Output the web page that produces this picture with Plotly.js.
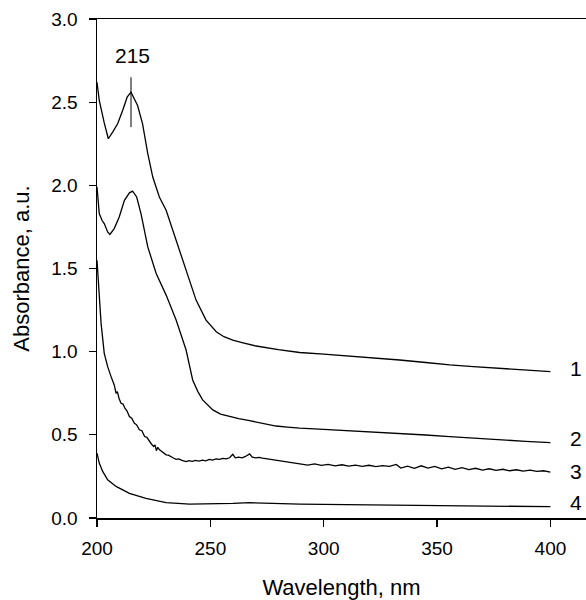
<!DOCTYPE html>
<html>
<head>
<meta charset="utf-8">
<script src="https://cdn.plot.ly/plotly-3.0.1.min.js"></script>
<style>html,body{margin:0;padding:0;background:#fff;}</style>
</head>
<body>
<div id="chart" style="width:586px;height:600px;"></div>
<script>
// Curve 1
const wl1 = [200,201,203.2,205,206.9,209.1,211.3,213.3,215,216.5,217.9,220.1,222.4,224.6,227.5,230.5,234.9,239.3,243.7,248.1,252.6,256,259.9,264,270.2,280,289.4,300,311.4,322,333.5,345,355.6,366,377.7,389,400];
const abs1 = [2.62,2.51,2.375,2.28,2.32,2.37,2.45,2.53,2.56,2.52,2.48,2.37,2.19,2.05,1.93,1.85,1.67,1.49,1.31,1.19,1.12,1.09,1.07,1.055,1.034,1.012,0.995,0.985,0.974,0.962,0.950,0.935,0.920,0.910,0.900,0.890,0.880];
// Curve 2
const wl2 = [200,201,202.2,203.2,204.7,205.7,207.6,209.8,212.1,214.3,215.7,217.5,219.4,222.4,226.1,230.5,234.9,239.3,242.2,244.5,246.6,249,251.1,254.5,258.4,262.5,267.3,273,279,284,289.4,300,311.4,322,333.5,345,355.6,366,377.7,389,400];
const abs2 = [1.99,1.83,1.79,1.77,1.72,1.705,1.74,1.81,1.91,1.955,1.965,1.93,1.83,1.63,1.47,1.34,1.19,1.01,0.83,0.76,0.71,0.675,0.65,0.625,0.61,0.598,0.585,0.568,0.553,0.546,0.54,0.533,0.525,0.517,0.509,0.499,0.489,0.479,0.47,0.461,0.453];
// Curve 3
const wl3 = [200,200.3,201,201.8,203.2,204.7,206.2,206.9,207.6,208.4,209,209.7,210.6,211.5,212.3,213.2,214.3,215.3,216.5,217.5,218.7,219.8,221,222,223.1,224,225,225.6,226.2,226.8,227.6,228.5,229.5,230.5,231.5,232.5,233.5,234.9,236,237.5,238.5,239.3,240.5,242,243.5,245,246.5,248,249.5,251,252.5,254,255.5,257,258.5,259.9,261,262.5,264,265.5,267.3,268.5,270,271.5,273,274.5,276.1,278,280,282,283.5,286,288,
  290,293,296,299,302,305,308,311,314,317,320,323,326,329,332,334,337,340,343,346,349,352,355,358,361,364,367,370,373,376,379,382,385,388,391,394,397,400];
const abs3 = [1.55,1.49,1.33,1.17,0.99,0.91,0.85,0.83,0.80,0.75,0.76,0.72,0.69,0.685,0.66,0.645,0.61,0.60,0.57,0.56,0.53,0.525,0.49,0.485,0.46,0.445,0.43,0.44,0.405,0.425,0.41,0.40,0.392,0.38,0.378,0.368,0.362,0.353,0.355,0.346,0.344,0.339,0.345,0.340,0.346,0.342,0.348,0.344,0.352,0.348,0.355,0.352,0.358,0.355,0.362,0.383,0.362,0.366,0.362,0.370,0.385,0.366,0.362,0.365,0.360,0.357,0.353,0.350,0.348,0.342,0.340,0.334,0.332,
  0.326,0.318,0.325,0.316,0.322,0.314,0.320,0.312,0.318,0.311,0.317,0.309,0.315,0.310,0.322,0.300,0.312,0.298,0.314,0.300,0.310,0.296,0.306,0.293,0.303,0.291,0.299,0.288,0.296,0.286,0.293,0.284,0.290,0.282,0.288,0.280,0.284,0.276];
// Curve 4
const wl4 = [200,201,202.5,204.7,208.4,214.3,221.6,230.5,240.8,252.6,260,267.3,275,289.4,310,330,348.2,370,400];
const abs4 = [0.39,0.33,0.28,0.23,0.19,0.148,0.118,0.092,0.084,0.084,0.088,0.092,0.088,0.084,0.08,0.077,0.074,0.071,0.068];

const xTicks = [200,250,300,350,400];
const curveLabels = ['1','2','3','4'];
const labelY = [0.90,0.475,0.277,0.096];
const peakLabel = '215';
const peakX = 215;

const lineStyle = {color:'#000', width:1.3};
const traces = [[wl1,abs1],[wl2,abs2],[wl3,abs3],[wl4,abs4]].map(([x,y]) => ({
  x, y, type:'scatter', mode:'lines', line:lineStyle, hoverinfo:'skip'
}));

const font = {family:'"Liberation Sans", Arial, sans-serif', color:'#000'};
const annotations = curveLabels.map((t,i) => ({
  x:411.5, y:labelY[i], xref:'x', yref:'y', text:t, showarrow:false,
  font:Object.assign({size:21}, font)
}));
annotations.push({x:peakX+0.8, y:2.778, xref:'x', yref:'y', text:peakLabel, showarrow:false,
  font:Object.assign({size:21}, font)});

const layout = {
  width:586, height:600,
  margin:{l:97, r:0, t:19, b:82},
  paper_bgcolor:'#fff', plot_bgcolor:'#fff',
  showlegend:false,
  font:Object.assign({size:18}, font),
  xaxis:{
    range:[200,415.7], tickvals:xTicks, ticks:'outside', ticklen:7, tickwidth:1.3, tickcolor:'#000',
    showline:true, linecolor:'#000', linewidth:1.5, mirror:true,
    showgrid:false, zeroline:false, ticklabelstandoff:6,
    tickfont:Object.assign({size:19}, font),
    title:{text:'Wavelength, nm', font:Object.assign({size:22}, font), standoff:24}
  },
  yaxis:{
    range:[0,3], dtick:0.5, tickformat:'.1f', ticks:'outside', ticklen:7, tickwidth:1.3, tickcolor:'#000',
    showline:true, linecolor:'#000', linewidth:1.5,
    showgrid:false, zeroline:false, ticklabelstandoff:7,
    tickfont:Object.assign({size:19}, font),
    title:{text:'Absorbance, a.u.', font:Object.assign({size:22}, font), standoff:15}
  },
  shapes:[{type:'line', xref:'x', yref:'y', x0:peakX, x1:peakX, y0:2.35, y1:2.65, line:{color:'#000', width:1}}],
  annotations
};

Plotly.newPlot('chart', traces, layout, {staticPlot:true, displayModeBar:false});
</script>
</body>
</html>
